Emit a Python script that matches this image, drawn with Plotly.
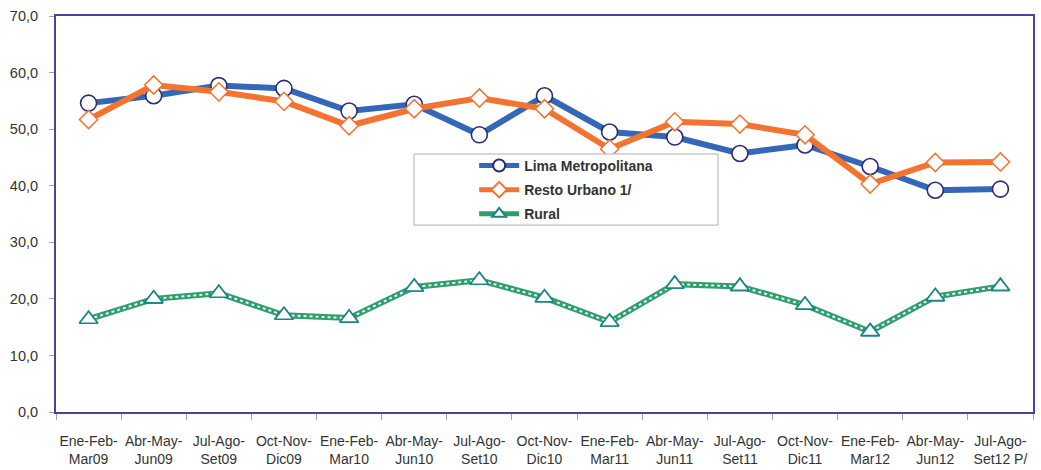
import plotly.graph_objects as go

categories = ["Ene-Feb-<br>Mar09", "Abr-May-<br>Jun09", "Jul-Ago-<br>Set09", "Oct-Nov-<br>Dic09",
              "Ene-Feb-<br>Mar10", "Abr-May-<br>Jun10", "Jul-Ago-<br>Set10", "Oct-Nov-<br>Dic10",
              "Ene-Feb-<br>Mar11", "Abr-May-<br>Jun11", "Jul-Ago-<br>Set11", "Oct-Nov-<br>Dic11",
              "Ene-Feb-<br>Mar12", "Abr-May-<br>Jun12", "Jul-Ago-<br>Set12 P/"]
lima = [54.6, 55.9, 57.7, 57.2, 53.2, 54.4, 49.0, 55.9, 49.5, 48.6, 45.7, 47.2, 43.4, 39.2, 39.4]
resto = [51.7, 57.8, 56.6, 54.9, 50.6, 53.6, 55.5, 53.6, 46.5, 51.3, 50.9, 49.0, 40.3, 44.1, 44.2]
rural = [16.4, 20.0, 21.0, 17.1, 16.6, 22.1, 23.3, 20.2, 15.9, 22.6, 22.2, 18.9, 14.2, 20.4, 22.2]
y_ticks = [0, 10, 20, 30, 40, 50, 60, 70]
y_tick_labels = ["0,0", "10,0", "20,0", "30,0", "40,0", "50,0", "60,0", "70,0"]

FONT = "Liberation Sans Narrow, Arial Narrow, Liberation Sans, Arial, sans-serif"
AX = "#45459a"
TXT = "#333333"
BLUE = "#3567b7"
NAVY = "#2b2b78"
ORANGE = "#f47330"
GREEN = "#2f9e6e"
TEAL = "#1b8585"

fig = go.Figure()

fig.add_trace(go.Scatter(
    x=categories, y=lima, name="Lima Metropolitana", mode="lines+markers", legendgroup="a",
    line=dict(color=BLUE, width=6),
    marker=dict(symbol="circle", size=16, color="white", line=dict(color=NAVY, width=1.6)),
))
fig.add_trace(go.Scatter(
    x=categories, y=resto, name="Resto Urbano 1/", mode="lines+markers", legendgroup="b",
    line=dict(color=ORANGE, width=6),
    marker=dict(symbol="diamond", size=14, color="white", line=dict(color=ORANGE, width=1.5)),
))
fig.add_trace(go.Scatter(
    x=categories, y=rural, name="Rural", mode="lines+markers", legendgroup="c",
    line=dict(color=GREEN, width=6),
    marker=dict(symbol="triangle-up", size=16, color="white", line=dict(color=TEAL, width=1.6)),
))
fig.add_trace(go.Scatter(
    x=categories, y=rural, mode="lines", showlegend=False, hoverinfo="skip", legendgroup="c",
    line=dict(color="rgba(255,255,255,0.9)", width=2, dash="dot"),
))
fig.add_trace(go.Scatter(
    x=categories, y=rural, mode="markers", showlegend=False, hoverinfo="skip", legendgroup="c",
    marker=dict(symbol="triangle-up", size=16, color="white", line=dict(color=TEAL, width=1.6)),
))

fig.add_shape(type="rect", xref="paper", yref="paper",
              x0=0.3664, x1=0.6776, y0=0.472, y1=0.6515,
              line=dict(color="#b0b0b0", width=1), fillcolor="white", layer="above")

fig.update_layout(
    width=1041, height=470,
    margin=dict(l=56, r=8, t=16, b=58, autoexpand=False),
    paper_bgcolor="white", plot_bgcolor="white",
    font=dict(family=FONT, size=14, color=TXT),
    showlegend=True,
    legend=dict(x=0.428, y=0.662, xanchor="left", yanchor="top",
                bgcolor="rgba(0,0,0,0)", borderwidth=0,
                font=dict(family=FONT, size=14, color=TXT, weight="bold"),
                tracegroupgap=3, itemwidth=40, itemsizing="constant"),
    xaxis=dict(
        showline=True, linecolor=AX, linewidth=2, mirror=True,
        showgrid=False, zeroline=False,
        ticks="outside", ticklen=6, tickcolor="#a0a0c8", tickwidth=1,
        tickson="boundaries", tickangle=0, ticklabelstandoff=15,
        tickfont=dict(family=FONT, size=14, color=TXT),
        range=[-0.5, 14.5], automargin=False,
    ),
    yaxis=dict(
        range=[0, 70], tickvals=y_ticks, ticktext=y_tick_labels,
        showline=True, linecolor=AX, linewidth=2, mirror=True,
        showgrid=False, zeroline=False,
        ticks="outside", ticklen=5, tickcolor="#a0a0c8", tickwidth=1,
        ticklabelstandoff=8,
        tickfont=dict(family=FONT, size=14.5, color=TXT), automargin=False,
    ),
)

fig.write_html("out.html", config={"displayModeBar": False},
               post_script="document.body.style.margin='0px';")
